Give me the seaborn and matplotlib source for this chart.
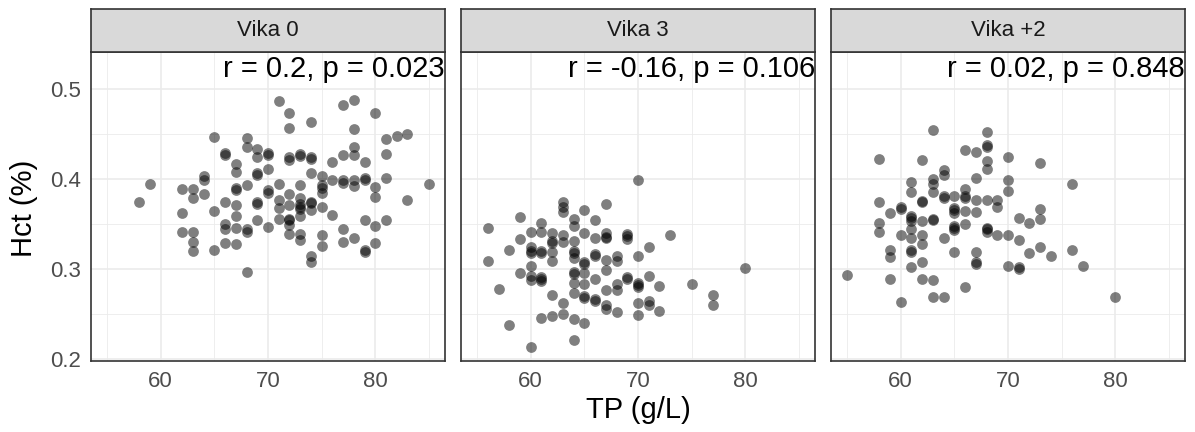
import matplotlib
matplotlib.use("Agg")
import matplotlib.pyplot as plt
import seaborn as sns
import pandas as pd

sns.set_style("white")
plt.rcParams["font.family"] = ["Liberation Sans", "DejaVu Sans"]

panels = ["Vika 0", "Vika 3", "Vika +2"]
cor_labels = ["r = 0.2, p = 0.023", "r = -0.16, p = 0.106", "r = 0.02, p = 0.848"]
x_ticks = [60, 70, 80]
y_ticks = [0.2, 0.3, 0.4, 0.5]

# ---- Vika 0 ----
tp_v0 = ([58] + [59] + [62]*3 + [63]*5 + [64]*3 + [65]*3 + [66]*6 + [67]*8 + [68]*6 +
         [69]*7 + [70]*6 + [71]*5 + [72]*10 + [73]*10 + [74]*9 + [75]*7 + [76]*3 +
         [77]*6 + [78]*7 + [79]*6 + [80]*5 + [81]*4 + [82] + [83]*2 + [85])
hct_v0 = [0.375,
          0.394,
          0.389, 0.362, 0.341,
          0.389, 0.379, 0.341, 0.330, 0.320,
          0.403, 0.399, 0.383,
          0.447, 0.365, 0.321,
          0.429, 0.427, 0.374, 0.350, 0.344, 0.329,
          0.417, 0.408, 0.390, 0.388, 0.371, 0.359, 0.346, 0.328,
          0.445, 0.435, 0.393, 0.345, 0.341, 0.297,
          0.433, 0.425, 0.407, 0.405, 0.375, 0.372, 0.355,
          0.429, 0.427, 0.411, 0.388, 0.385, 0.347,
          0.487, 0.394, 0.377, 0.368, 0.356,
          0.473, 0.457, 0.425, 0.421, 0.383, 0.371, 0.356, 0.354, 0.349, 0.339,
          0.428, 0.426, 0.393, 0.379, 0.372, 0.369, 0.367, 0.359, 0.339, 0.332,
          0.463, 0.425, 0.422, 0.407, 0.375, 0.373, 0.366, 0.315, 0.308,
          0.403, 0.393, 0.390, 0.385, 0.369, 0.338, 0.326,
          0.419, 0.399, 0.360,
          0.482, 0.427, 0.399, 0.396, 0.345, 0.330,
          0.488, 0.455, 0.436, 0.427, 0.399, 0.392, 0.335,
          0.419, 0.401, 0.399, 0.355, 0.321, 0.319,
          0.473, 0.391, 0.380, 0.348, 0.329,
          0.444, 0.428, 0.401, 0.355,
          0.448,
          0.450, 0.377,
          0.395]

# ---- Vika 3 ----
tp_v3 = ([56]*2 + [57] + [58]*2 + [59]*3 + [60]*8 + [61]*8 + [62]*7 + [63]*7 +
         [64]*12 + [65]*9 + [66]*7 + [67]*9 + [68]*5 + [69]*5 + [70]*7 + [71]*4 +
         [72]*2 + [73] + [75] + [77]*2 + [80])
hct_v3 = [0.346, 0.309,
          0.278,
          0.321, 0.238,
          0.358, 0.333, 0.296,
          0.341, 0.325, 0.320, 0.318, 0.304, 0.292, 0.288, 0.213,
          0.351, 0.341, 0.320, 0.318, 0.291, 0.289, 0.287, 0.246,
          0.340, 0.331, 0.329, 0.319, 0.309, 0.271, 0.248,
          0.375, 0.369, 0.363, 0.338, 0.330, 0.262, 0.250,
          0.356, 0.348, 0.331, 0.320, 0.318, 0.312, 0.297, 0.295, 0.285, 0.273, 0.245, 0.221,
          0.366, 0.340, 0.308, 0.306, 0.296, 0.284, 0.270, 0.268, 0.240,
          0.354, 0.335, 0.317, 0.315, 0.289, 0.267, 0.265,
          0.372, 0.340, 0.336, 0.334, 0.310, 0.299, 0.277, 0.260, 0.256,
          0.314, 0.309, 0.283, 0.277, 0.252,
          0.339, 0.337, 0.333, 0.291, 0.289,
          0.399, 0.314, 0.285, 0.282, 0.280, 0.262, 0.249,
          0.325, 0.292, 0.265, 0.260,
          0.281, 0.253,
          0.338,
          0.283,
          0.271, 0.260,
          0.301]

# ---- Vika +2 ----
tp_v2 = ([55] + [58]*4 + [59]*4 + [60]*4 + [61]*10 + [62]*8 + [63]*8 + [64]*6 +
         [65]*8 + [66]*7 + [67]*7 + [68]*9 + [69]*3 + [70]*5 + [71]*4 + [72]*2 +
         [73]*4 + [74] + [76]*2 + [77] + [80])
hct_v2 = [0.293,
          0.422, 0.375, 0.351, 0.341,
          0.362, 0.321, 0.313, 0.289,
          0.369, 0.367, 0.338, 0.263,
          0.397, 0.386, 0.359, 0.357, 0.353, 0.345, 0.335, 0.321, 0.319, 0.302,
          0.421, 0.376, 0.374, 0.353, 0.338, 0.328, 0.308, 0.289,
          0.454, 0.400, 0.395, 0.386, 0.356, 0.354, 0.288, 0.269,
          0.410, 0.405, 0.381, 0.379, 0.335, 0.269,
          0.381, 0.368, 0.366, 0.362, 0.348, 0.346, 0.343, 0.319,
          0.432, 0.389, 0.381, 0.379, 0.365, 0.350, 0.280,
          0.430, 0.401, 0.377, 0.363, 0.319, 0.308, 0.306,
          0.452, 0.438, 0.436, 0.420, 0.411, 0.377, 0.346, 0.344, 0.341,
          0.377, 0.369, 0.338,
          0.425, 0.399, 0.387, 0.338, 0.303,
          0.357, 0.332, 0.302, 0.300,
          0.351, 0.318,
          0.418, 0.367, 0.356, 0.324,
          0.314,
          0.394, 0.321,
          0.303,
          0.269]

df = pd.concat([
    pd.DataFrame({"TP": tp_v0, "Hct": hct_v0, "visit": panels[0]}),
    pd.DataFrame({"TP": tp_v3, "Hct": hct_v3, "visit": panels[1]}),
    pd.DataFrame({"TP": tp_v2, "Hct": hct_v2, "visit": panels[2]}),
], ignore_index=True)

W, H = 1195, 432
fig = plt.figure(figsize=(W / 100, H / 100), dpi=100)
lefts = [91, 461, 831]
pw = 354
top, bottom, strip_top = 52, 361, 9
dark = "#333333"

for i, (panel, lab) in enumerate(zip(panels, cor_labels)):
    l = lefts[i]
    ax = fig.add_axes([l / W, (H - bottom) / H, pw / W, (bottom - top) / H])
    sub = df[df["visit"] == panel]
    sns.scatterplot(data=sub, x="TP", y="Hct", ax=ax, color="black", alpha=0.5,
                    s=60, linewidth=0, legend=False, zorder=3)
    ax.set_xlim(53.5, 86.5)
    ax.set_ylim(0.198, 0.541)
    ax.set_xticks(x_ticks)
    ax.set_xticks([55, 65, 75, 85], minor=True)
    ax.set_yticks(y_ticks)
    ax.set_yticks([0.25, 0.35, 0.45], minor=True)
    ax.set_yticklabels([f"{v:.1f}" for v in y_ticks])
    ax.grid(which="major", color="#EBEBEB", linewidth=1.2)
    ax.grid(which="minor", color="#EBEBEB", linewidth=0.6)
    ax.set_axisbelow(True)
    for sp in ax.spines.values():
        sp.set_color(dark)
        sp.set_linewidth(1.2)
    ax.tick_params(which="major", length=4, width=1.2, color=dark,
                   labelsize=16, labelcolor="#4D4D4D", pad=3)
    ax.tick_params(which="minor", length=0)
    if i > 0:
        ax.tick_params(axis="y", which="both", left=False, labelleft=False)
    ax.set_xlabel("")
    ax.set_ylabel("")
    ax.text(1.0, 0.5225, lab, transform=ax.get_yaxis_transform(), ha="right",
            va="center", fontsize=21, color="black", zorder=5)

    sax = fig.add_axes([l / W, (H - top) / H, pw / W, (top - strip_top) / H])
    sax.set_facecolor("#D9D9D9")
    sax.set_xticks([])
    sax.set_yticks([])
    for sp in sax.spines.values():
        sp.set_color(dark)
        sp.set_linewidth(1.2)
    sax.text(0.5, 0.5, panel, ha="center", va="center", fontsize=16,
             color="#1A1A1A", transform=sax.transAxes)

fig.text(24 / W, 1 - 208 / H, "Hct (%)", rotation=90, ha="center", va="center",
         fontsize=21, color="black")
fig.text(638 / W, 1 - 410 / H, "TP (g/L)", ha="center", va="center",
         fontsize=21, color="black")

fig.savefig("out.png", dpi=100)
